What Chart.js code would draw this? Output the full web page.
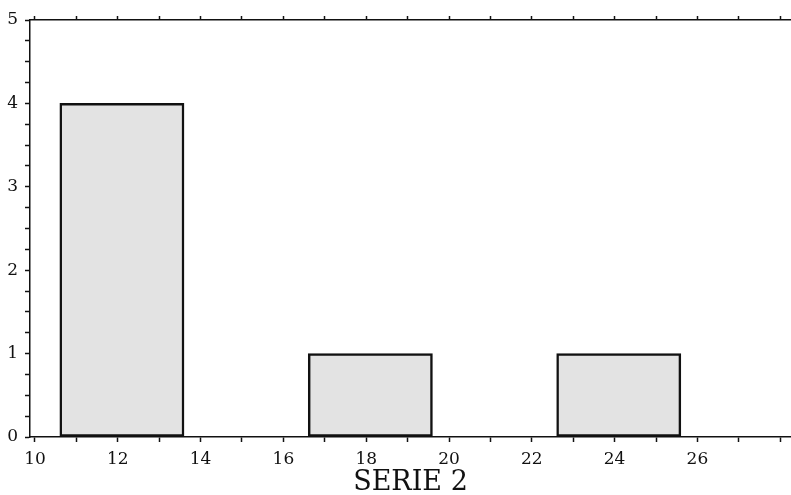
<!DOCTYPE html>
<html>
<head>
<meta charset="utf-8">
<script src="https://cdn.jsdelivr.net/npm/chart.js@4"></script>
<style>
  html, body { margin: 0; padding: 0; background: #fff; }
  #wrap { width: 791px; height: 495px; }
</style>
</head>
<body>
<div id="wrap"><canvas id="histo" width="791" height="495"></canvas></div>
<script>
// histogramme SERIE 2 (classes de largeur 3)
const binCenters = [12.1, 15.1, 18.1, 21.1, 24.1];
const binCounts = [4, 0, 1, 0, 1];
const xMin = 9.88, xMax = 28.26;
const yMin = 0, yMax = 5;
const xLabelValues = [10, 12, 14, 16, 18, 20, 22, 24, 26];
const yLabelValues = [0, 1, 2, 3, 4, 5];
const axisTitle = 'SERIE 2';

const tickFont = { family: 'DejaVu Serif', size: 17 };
const ink = '#111';

let points = binCenters.map((c, i) => ({ x: c, y: binCounts[i] }));

new Chart(document.getElementById('histo').getContext('2d'), {
    type: 'bar',
    data: {
        datasets: [{
            data: points,
            xAxisID: 'x',
            yAxisID: 'y',
            backgroundColor: '#e3e3e3',
            borderColor: ink,
            borderWidth: 2.5,
            borderSkipped: false,
            barThickness: 'flex',
            barPercentage: 1,
            categoryPercentage: 1
        }]
    },
    options: {
        responsive: false,
        animation: false,
        layout: { padding: 0 },
        plugins: {
            legend: { display: false },
            tooltip: { enabled: false }
        },
        scales: {
            x: {
                type: 'linear',
                position: 'bottom',
                min: xMin,
                max: xMax,
                offset: false,
                grid: { offset: false, drawOnChartArea: false, tickLength: 5, tickColor: ink, tickWidth: 1.5 },
                border: { display: true, color: ink, width: 1.5 },
                ticks: {
                    stepSize: 1,
                    includeBounds: false,
                    autoSkip: false,
                    maxRotation: 0,
                    padding: 7,
                    color: ink,
                    font: tickFont,
                    callback: function(value) {
                        return xLabelValues.includes(value) ? String(value) : '';
                    }
                },
                title: {
                    display: true,
                    text: axisTitle,
                    color: ink,
                    padding: 0,
                    font: { family: 'DejaVu Serif', size: 27, lineHeight: 0.9 }
                },
                afterFit: function(scale) { scale.height = 58; }
            },
            x2: {
                type: 'linear',
                position: 'top',
                min: xMin,
                max: xMax,
                offset: false,
                grid: { offset: false, drawOnChartArea: false, tickLength: 4, tickColor: ink, tickWidth: 1.5 },
                border: { display: true, color: ink, width: 1.5 },
                ticks: {
                    stepSize: 1,
                    includeBounds: false,
                    autoSkip: false,
                    padding: 0,
                    callback: function() { return ''; }
                },
                afterFit: function(scale) { scale.height = 20; }
            },
            y: {
                type: 'linear',
                position: 'left',
                min: yMin,
                max: yMax,
                grid: { drawOnChartArea: false, tickLength: 5, tickColor: ink, tickWidth: 1.5 },
                border: { display: true, color: ink, width: 1.5 },
                ticks: {
                    stepSize: 0.25,
                    autoSkip: false,
                    padding: 7,
                    color: ink,
                    font: tickFont,
                    callback: function(value) {
                        return yLabelValues.includes(value) ? String(value) : '';
                    }
                },
                afterFit: function(scale) { scale.width = 30; }
            }
        }
    }
});
</script>
</body>
</html>
